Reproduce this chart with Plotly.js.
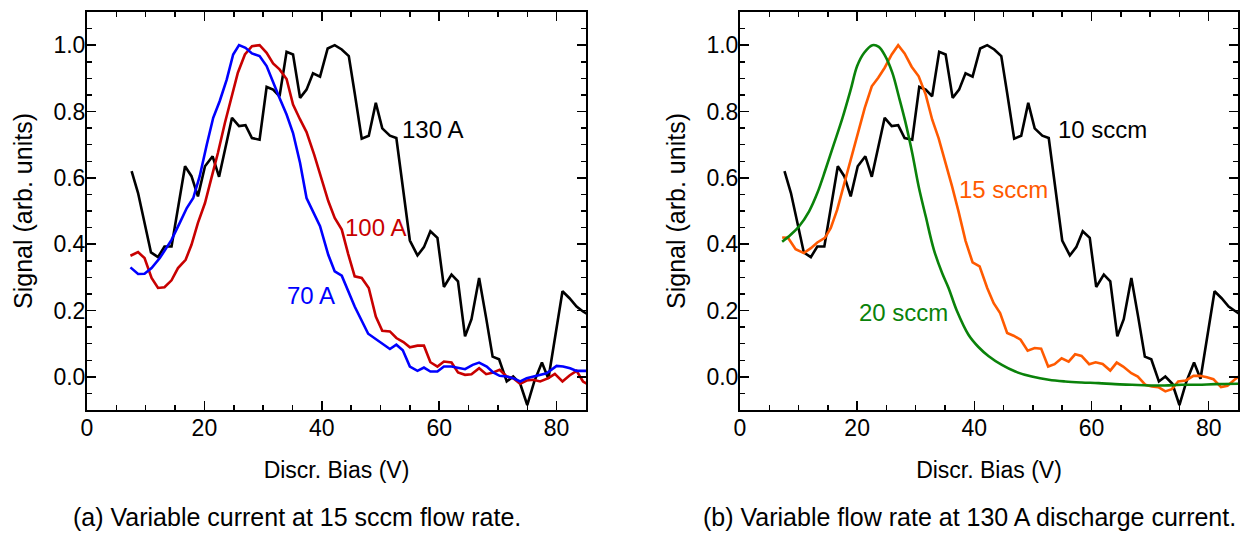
<!DOCTYPE html>
<html>
<head>
<meta charset="utf-8">
<script src="https://cdn.plot.ly/plotly-3.0.1.min.js"></script>
<style>html,body{margin:0;padding:0;background:#fff;}#chart{width:1241px;height:534px;}</style>
</head>
<body>
<div id="chart"></div>
<script>
// Shared black curve: 130 A (panel a) = 10 sccm (panel b)
const biasBlack = [7.6, 8.7, 10.9, 12.1, 13.2, 14.4, 16.7, 17.8, 18.9, 20.1, 21.4, 22.5, 24.7, 25.9, 27.0, 28.1, 29.4, 30.6, 31.7, 32.8, 34.0, 35.1, 36.3, 37.4, 38.5, 39.7, 41.0, 42.2, 43.4, 44.6, 45.6, 46.8, 48.0, 49.2, 50.3, 51.6, 52.7, 55.0, 56.3, 57.4, 58.5, 59.7, 60.8, 62.1, 63.2, 64.4, 65.5, 66.8, 68.0, 69.1, 70.2, 71.5, 72.6, 73.8, 75.0, 76.2, 77.5, 78.6, 81.0, 82.2, 83.4, 84.5, 85.6];
const signalBlack = [0.62, 0.554, 0.375, 0.361, 0.393, 0.393, 0.635, 0.605, 0.544, 0.635, 0.665, 0.603, 0.781, 0.756, 0.759, 0.72, 0.715, 0.874, 0.866, 0.846, 0.98, 0.972, 0.841, 0.866, 0.915, 0.905, 0.99, 1.0, 0.987, 0.967, 0.856, 0.718, 0.727, 0.826, 0.749, 0.727, 0.72, 0.411, 0.366, 0.391, 0.439, 0.419, 0.271, 0.308, 0.288, 0.122, 0.174, 0.298, 0.177, 0.061, 0.053, -0.014, 0.001, -0.021, -0.085, -0.014, 0.043, -0.006, 0.258, 0.237, 0.212, 0.197, 0.185];

// Panel a: 100 A
const bias100 = [7.4, 8.7, 9.8, 11.0, 12.1, 13.2, 14.4, 15.5, 16.8, 17.8, 18.9, 20.1, 21.2, 22.3, 23.5, 24.6, 25.7, 26.9, 28.1, 29.4, 30.6, 31.7, 32.8, 34.0, 35.1, 36.3, 37.4, 38.7, 40.0, 41.1, 42.2, 43.4, 44.5, 45.6, 46.8, 48.0, 49.2, 50.3, 51.6, 52.7, 53.9, 55.0, 56.3, 57.4, 58.5, 59.7, 60.8, 62.1, 63.2, 64.4, 65.5, 66.8, 68.0, 69.2, 70.3, 71.5, 72.6, 73.8, 74.9, 76.0, 77.2, 78.6, 79.7, 81.0, 82.2, 83.4, 84.5, 85.5];
const signal100 = [0.365, 0.376, 0.358, 0.298, 0.268, 0.27, 0.291, 0.328, 0.353, 0.398, 0.464, 0.524, 0.60, 0.675, 0.766, 0.841, 0.917, 0.972, 0.997, 1.0, 0.977, 0.945, 0.927, 0.898, 0.821, 0.776, 0.738, 0.67, 0.595, 0.53, 0.479, 0.444, 0.37, 0.303, 0.298, 0.268, 0.182, 0.139, 0.137, 0.117, 0.105, 0.089, 0.094, 0.094, 0.044, 0.031, 0.046, 0.043, 0.013, 0.006, 0.008, 0.026, 0.008, 0.013, 0.021, 0.001, -0.004, -0.021, -0.011, -0.009, -0.014, -0.004, 0.009, -0.014, 0.004, 0.018, -0.014, -0.025];

// Panel a: 70 A
const bias70 = [7.4, 8.7, 9.8, 11.0, 12.4, 14.4, 15.8, 17.0, 18.1, 19.2, 20.4, 21.5, 22.6, 23.8, 24.9, 25.9, 27.0, 28.1, 29.4, 30.6, 32.8, 34.0, 35.1, 36.3, 37.4, 38.5, 39.7, 41.1, 42.2, 43.4, 45.6, 47.9, 50.3, 51.6, 52.7, 53.8, 55.0, 56.3, 57.4, 58.5, 59.7, 60.8, 62.1, 64.4, 65.7, 66.8, 68.1, 69.2, 70.3, 71.5, 72.6, 73.8, 74.9, 76.0, 78.3, 80.0, 81.1, 82.3, 83.4, 84.6, 85.5];
const signal70 = [0.33, 0.31, 0.311, 0.328, 0.358, 0.413, 0.464, 0.509, 0.539, 0.605, 0.70, 0.781, 0.831, 0.896, 0.972, 1.0, 0.992, 0.975, 0.967, 0.937, 0.841, 0.791, 0.735, 0.645, 0.539, 0.499, 0.454, 0.368, 0.318, 0.305, 0.212, 0.13, 0.10, 0.084, 0.097, 0.08, 0.031, 0.018, 0.028, 0.016, 0.016, 0.031, 0.031, 0.023, 0.036, 0.043, 0.031, 0.013, 0.003, 0.001, -0.004, -0.014, -0.004, 0.001, 0.011, 0.033, 0.031, 0.026, 0.018, 0.018, 0.018];

// Panel b: 15 sccm
const bias15 = [7.2, 8.2, 9.5, 10.9, 12.1, 13.2, 14.5, 15.5, 16.6, 17.7, 18.9, 20.0, 21.3, 22.5, 23.6, 24.7, 25.9, 27.0, 28.1, 29.3, 30.5, 31.7, 32.8, 33.9, 35.1, 36.2, 37.3, 38.5, 39.7, 40.9, 42.2, 43.3, 44.4, 45.6, 46.7, 47.9, 49.1, 50.3, 51.4, 52.6, 53.7, 54.9, 56.1, 57.2, 58.3, 59.6, 60.7, 61.9, 63.2, 64.3, 65.4, 66.8, 67.9, 69.2, 70.3, 71.4, 72.6, 73.7, 74.8, 76.1, 77.4, 78.5, 79.7, 80.8, 82.1, 83.2, 84.5, 85.5];
const signal15 = [0.42, 0.419, 0.385, 0.373, 0.388, 0.405, 0.419, 0.449, 0.504, 0.574, 0.655, 0.725, 0.811, 0.876, 0.902, 0.932, 0.972, 1.0, 0.975, 0.935, 0.906, 0.851, 0.776, 0.72, 0.645, 0.574, 0.499, 0.41, 0.345, 0.333, 0.268, 0.222, 0.192, 0.132, 0.124, 0.112, 0.079, 0.087, 0.085, 0.031, 0.038, 0.056, 0.046, 0.068, 0.063, 0.038, 0.044, 0.039, 0.019, 0.043, 0.031, 0.011, 0.001, -0.024, -0.029, -0.031, -0.044, -0.037, -0.014, -0.011, 0.003, 0.003, -0.001, -0.007, -0.031, -0.027, -0.007, 0.005];

// Panel b: 20 sccm
const bias20 = [7.2, 8.7, 10.1, 11.8, 13.2, 14.6, 16.0, 17.5, 18.9, 20.0, 21.2, 22.6, 23.7, 24.8, 26.0, 27.1, 28.2, 29.4, 30.5, 31.7, 33.1, 34.5, 35.6, 37.0, 39.0, 40.7, 42.4, 44.7, 47.0, 49.8, 52.7, 55.5, 58.3, 61.2, 64.0, 66.9, 69.7, 72.5, 75.4, 78.2, 81.1, 85.0];
const signal20 = [0.407, 0.429, 0.454, 0.499, 0.554, 0.625, 0.70, 0.781, 0.866, 0.937, 0.977, 1.0, 0.995, 0.967, 0.917, 0.846, 0.771, 0.675, 0.574, 0.484, 0.383, 0.313, 0.268, 0.2, 0.127, 0.09, 0.063, 0.036, 0.016, 0.001, -0.009, -0.014, -0.017, -0.019, -0.022, -0.024, -0.026, -0.026, -0.024, -0.024, -0.022, -0.021];

const xTickVals = [0, 20, 40, 60, 80];
const yTickVals = [0.0, 0.2, 0.4, 0.6, 0.8, 1.0];
const xTitle = 'Discr. Bias (V)';
const yTitle = 'Signal (arb. units)';
const captionA = '(a) Variable current at 15 sccm flow rate.';
const captionB = '(b) Variable flow rate at 130 A discharge current.';

const FONT = 'Liberation Sans, Arial, Helvetica, sans-serif';
const LW = 2.6;

function line(x, y, color, xa, ya, shape) {
  return {x: x, y: y, type: 'scatter', mode: 'lines', xaxis: xa, yaxis: ya,
          line: {color: color, width: LW, shape: shape || 'linear', smoothing: 1},
          hoverinfo: 'skip', showlegend: false};
}

const traces = [
  line(biasBlack, signalBlack, '#000000', 'x', 'y'),
  line(bias100, signal100, '#c80000', 'x', 'y'),
  line(bias70, signal70, '#0000ff', 'x', 'y'),
  line(biasBlack, signalBlack, '#000000', 'x2', 'y2'),
  line(bias15, signal15, '#ff5a00', 'x2', 'y2'),
  line(bias20, signal20, '#0a820a', 'x2', 'y2', 'spline')
];

function xAxis(domain, anchor) {
  return {domain: domain, anchor: anchor, range: [0, 85], tickvals: xTickVals, ticktext: xTickVals.map(String),
    showline: true, linecolor: '#000', linewidth: 2, mirror: 'ticks',
    ticks: 'inside', ticklen: 9, tickwidth: 1.5, tickcolor: '#000',
    minor: {dtick: 5, tick0: 0, ticks: 'inside', ticklen: 5, tickwidth: 1.5, tickcolor: '#000', showgrid: false},
    showgrid: false, zeroline: false, tickfont: {family: FONT, size: 23, color: '#000'},
    ticklabelstandoff: -4,
    title: {text: xTitle, font: {family: FONT, size: 23, color: '#000'}, standoff: 22}};
}
function yAxis(anchor) {
  return {domain: [0, 1], anchor: anchor, range: [-0.1, 1.1], tickvals: yTickVals, ticktext: yTickVals.map(v => v.toFixed(1)),
    showline: true, linecolor: '#000', linewidth: 2, mirror: 'ticks',
    ticks: 'inside', ticklen: 9, tickwidth: 1.5, tickcolor: '#000',
    minor: {dtick: 0.05, tick0: 0, ticks: 'inside', ticklen: 5, tickwidth: 1.5, tickcolor: '#000', showgrid: false},
    showgrid: false, zeroline: false, tickfont: {family: FONT, size: 23, color: '#000'},
    ticklabelstandoff: -5,
    title: {text: yTitle, font: {family: FONT, size: 25, color: '#000'}, standoff: 14}};
}

function label(text, x, y, color, xref, yref) {
  return {text: text, x: x, y: y, xref: xref, yref: yref, xanchor: 'left', yanchor: 'middle',
          showarrow: false, font: {family: FONT, size: 24, color: color}};
}

const layout = {
  width: 1241, height: 534,
  margin: {l: 87, r: 3, t: 12, b: 124},
  paper_bgcolor: '#fff', plot_bgcolor: '#fff',
  showlegend: false,
  xaxis: xAxis([0, 0.4335], 'y'),
  yaxis: yAxis('x'),
  xaxis2: xAxis([0.5673, 1], 'y2'),
  yaxis2: yAxis('x2'),
  annotations: [
    label('130 A', 53.3, 0.746, '#000000', 'x', 'y'),
    label('100 A', 43.6, 0.45, '#c80000', 'x', 'y'),
    label('70 A', 33.7, 0.245, '#0000ff', 'x', 'y'),
    label('10 sccm', 53.9, 0.746, '#000000', 'x2', 'y2'),
    label('15 sccm', 37.0, 0.564, '#ff5a00', 'x2', 'y2'),
    label('20 sccm', 19.9, 0.194, '#0a820a', 'x2', 'y2'),
    {text: captionA, xref: 'paper', yref: 'paper', x: (297 - 87) / 1151, y: -(517 - 410) / 398,
     xanchor: 'center', yanchor: 'middle', showarrow: false, font: {family: FONT, size: 25, color: '#000'}},
    {text: captionB, xref: 'paper', yref: 'paper', x: (970 - 87) / 1151, y: -(517 - 410) / 398,
     xanchor: 'center', yanchor: 'middle', showarrow: false, font: {family: FONT, size: 25, color: '#000'}}
  ]
};

Plotly.newPlot('chart', traces, layout, {displayModeBar: false, staticPlot: true});
</script>
</body>
</html>
